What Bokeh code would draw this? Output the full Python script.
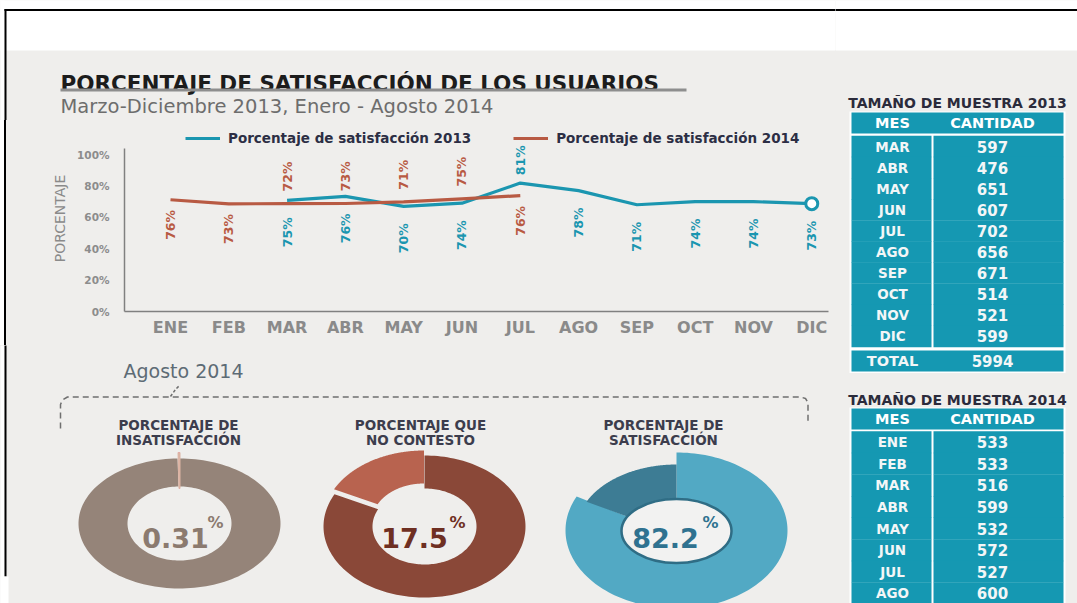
import numpy as np
from bokeh.plotting import figure
from bokeh.models import Range1d, FixedTicker, PrintfTickFormatter, Legend, LegendItem, Div
from bokeh.layouts import row, column
from bokeh.embed import file_html
from bokeh.resources import INLINE
from bokeh.core.properties import value

# ---------------- data ----------------
MESES = ["ENE", "FEB", "MAR", "ABR", "MAY", "JUN", "JUL", "AGO", "SEP", "OCT", "NOV", "DIC"]

MESES_2013 = ["MAR", "ABR", "MAY", "JUN", "JUL", "AGO", "SEP", "OCT", "NOV", "DIC"]
LINEA_2013 = [70.8, 73.3, 67.0, 69.0, 81.8, 77.0, 68.0, 70.0, 70.0, 68.7]
ETIQ_2013 = ["75%", "76%", "70%", "74%", "81%", "78%", "71%", "74%", "74%", "73%"]
POS_2013 = ["abajo", "abajo", "abajo", "abajo", "arriba", "abajo", "abajo", "abajo", "abajo", "abajo"]

MESES_2014 = ["ENE", "FEB", "MAR", "ABR", "MAY", "JUN", "JUL"]
LINEA_2014 = [71.2, 68.6, 68.7, 68.8, 69.8, 71.8, 73.8]
ETIQ_2014 = ["76%", "73%", "72%", "73%", "71%", "75%", "76%"]
POS_2014 = ["abajo", "abajo", "arriba", "arriba", "arriba", "arriba", "abajo"]

Y_TICKS = [0, 20, 40, 60, 80, 100]

TABLA_MESES_2013 = ["MAR", "ABR", "MAY", "JUN", "JUL", "AGO", "SEP", "OCT", "NOV", "DIC"]
MUESTRA_2013 = [597, 476, 651, 607, 702, 656, 671, 514, 521, 599]
TOTAL_2013 = 5994
TABLA_MESES_2014 = ["ENE", "FEB", "MAR", "ABR", "MAY", "JUN", "JUL", "AGO"]
MUESTRA_2014 = [533, 533, 516, 599, 532, 572, 527, 600]

DONUT_TITULOS = [("PORCENTAJE DE", "INSATISFACCIÓN"),
                 ("PORCENTAJE QUE", "NO CONTESTO"),
                 ("PORCENTAJE DE", "SATISFACCIÓN")]
DONUT_VALORES = [0.31, 17.5, 82.2]
DONUT_TEXTOS = ["0.31", "17.5", "82.2"]

# ---------------- style ----------------
BG = "#efeeec"
TEAL = "#1b96b0"
RED = "#b85a43"
FONT = value("DejaVu Sans")
TBL = "#1598b2"
BAND = {"background": f"linear-gradient(to bottom, white 0px, white 50px, {BG} 50px, {BG} 100%)"}


def lienzo(x0, x1, y0, y1):
    f = figure(width=int(x1 - x0), height=int(y1 - y0),
               x_range=Range1d(x0, x1), y_range=Range1d(y1, y0),
               output_backend="svg", toolbar_location=None, min_border=0,
               x_axis_type=None, y_axis_type=None,
               background_fill_color=BG, border_fill_color=BG,
               outline_line_color=None, frame_align=False)
    return f


def texto(f, x, y, s, size, color, bold=False, align="left", baseline="middle", angle=0.0):
    f.text(x=[x], y=[y], text=[s], text_font=FONT, text_font_size=f"{size}px",
           text_font_style="bold" if bold else "normal", text_color=color,
           text_align=align, text_baseline=baseline, angle=angle)


def borde_izq(f, y0, y1):
    f.quad(left=[-5], right=[4], top=[y0 - 5], bottom=[y1 + 5], fill_color="white", line_color=None)
    f.segment(x0=[5], y0=[max(y0 - 2, 8.5)], x1=[5], y1=[min(y1 + 2, 576)], line_color="black",
              line_width=2)


# ---------------- header ----------------
head = lienzo(0, 835, 0, 120)
head.quad(left=[-5], right=[845], top=[-5], bottom=[50], fill_color="white", line_color=None)
borde_izq(head, 0, 120)
head.segment(x0=[4], y0=[9.5], x1=[845], y1=[9.5], line_color="black", line_width=2)
texto(head, 60, 82.5, "PORCENTAJE DE SATISFACCIÓN DE LOS USUARIOS", 21.5, "#1c1c1c", bold=True,
      baseline="alphabetic")
head.segment(x0=[60], y0=[89.5], x1=[686], y1=[89.5], line_color="#8e8e8e", line_width=3)
texto(head, 60, 106, "Marzo-Diciembre 2013, Enero - Agosto 2014", 19.5, "#6d6d6d", baseline="alphabetic")

# ---------------- line chart ----------------
strip = Div(width=6, height=225, text="", margin=0,
            styles={"background": "linear-gradient(to right, white 0px, white 4px, black 4px, black 6px)"})

chart = figure(width=829, height=225, x_range=Range1d(-0.789, 11.287), y_range=Range1d(0, 118.5),
               output_backend="svg", toolbar_location=None,
               min_border_left=118, min_border_right=7, min_border_top=5, min_border_bottom=34,
               background_fill_color=BG, border_fill_color=BG, outline_line_color=None,
               frame_align=False)
chart.grid.visible = False

x13 = [MESES.index(m) for m in MESES_2013]
x14 = [MESES.index(m) for m in MESES_2014]

l13 = chart.line(x13, LINEA_2013, line_color=TEAL, line_width=3.2)
l14 = chart.line(x14, LINEA_2014, line_color=RED, line_width=3.2)
chart.scatter([x13[-1]], [LINEA_2013[-1]], marker="circle", size=12, fill_color="white",
              line_color=TEAL, line_width=3)

OFF = {"2013": {"arriba": 5.0, "abajo": -10.8}, "2014": {"arriba": 7.8, "abajo": -6.5}}
for key, xs, vals, labs, pos, col in [("2013", x13, LINEA_2013, ETIQ_2013, POS_2013, TEAL),
                                      ("2014", x14, LINEA_2014, ETIQ_2014, POS_2014, RED)]:
    for where, align in [("arriba", "left"), ("abajo", "right")]:
        idx = [i for i, p_ in enumerate(pos) if p_ == where]
        if not idx:
            continue
        chart.text(x=[xs[i] for i in idx], y=[vals[i] + OFF[key][where] for i in idx],
                   text=[labs[i] for i in idx], angle=np.pi / 2, text_align=align,
                   text_baseline="middle", text_font=FONT, text_font_size="12.5px",
                   text_font_style="bold", text_color=col)

xa = chart.xaxis[0]
xa.ticker = FixedTicker(ticks=list(range(len(MESES))))
xa.major_label_overrides = {i: m for i, m in enumerate(MESES)}
xa.major_tick_line_color = None
xa.minor_tick_line_color = None
xa.axis_line_color = "#808080"
xa.axis_line_width = 1.5
xa.major_label_text_font = "DejaVu Sans"
xa.major_label_text_font_size = "16px"
xa.major_label_text_font_style = "bold"
xa.major_label_text_color = "#8a8a8a"
xa.major_label_standoff = 0

ya = chart.yaxis[0]
ya.ticker = FixedTicker(ticks=Y_TICKS)
ya.formatter = PrintfTickFormatter(format="%d%%")
ya.bounds = (0, 104)
ya.major_tick_line_color = None
ya.minor_tick_line_color = None
ya.axis_line_color = "#808080"
ya.axis_line_width = 1.5
ya.major_label_text_font = "DejaVu Sans"
ya.major_label_text_font_size = "10.5px"
ya.major_label_text_font_style = "bold"
ya.major_label_text_color = "#8c8c8c"
ya.major_label_standoff = 9
ya.axis_label = "PORCENTAJE"
ya.axis_label_text_font = "DejaVu Sans"
ya.axis_label_text_font_size = "14px"
ya.axis_label_text_font_style = "normal"
ya.axis_label_text_color = "#8a8a8a"
ya.axis_label_standoff = 6

legend = Legend(items=[LegendItem(label="Porcentaje de satisfacción 2013", renderers=[l13]),
                       LegendItem(label="Porcentaje de satisfacción 2014", renderers=[l14])],
                orientation="horizontal", location=(61, 165), spacing=42, glyph_width=35,
                glyph_height=14, label_height=14, label_standoff=8, padding=0, margin=0,
                border_line_color=None, background_fill_alpha=0,
                label_text_font="DejaVu Sans", label_text_font_size="13.5px",
                label_text_font_style="bold", label_text_color="#2c2e44")
chart.add_layout(legend)

# ---------------- donuts ----------------
don = lienzo(0, 835, 345, 603)
borde_izq(don, 345, 603)
don.quad(left=[-5], right=[8], top=[576], bottom=[610], fill_color="white", line_color=None)
texto(don, 183, 370, "Agosto 2014", 19, "#5d6b75", align="center")
don.line(x=[60, 60, 62, 67, 800, 805, 807.5, 807.5], y=[428, 404, 399.5, 396.5, 396.5, 398, 402, 424],
         line_color="#6f6f6f", line_width=1.5, line_dash="6 4")
don.line(x=[170, 175, 179], y=[396, 389, 385], line_color="#6f6f6f", line_width=1.5, line_dash="3 2")


def anillo(cx, cy, rxo, ryo, rxi, ryi, a0, a1, n=160):
    t = np.radians(np.linspace(a0, a1, n))
    xo = cx + rxo * np.cos(t)
    yo = cy - ryo * np.sin(t)
    xi = cx + rxi * np.cos(t[::-1])
    yi = cy - ryi * np.sin(t[::-1])
    return list(np.r_[xo, xi]), list(np.r_[yo, yi])


for i, (l1, l2) in enumerate(DONUT_TITULOS):
    cx_t = [178, 420, 663][i]
    texto(don, cx_t, 424.7, l1, 13.5, "#3c3d4d", bold=True, align="center")
    texto(don, cx_t, 439.5, l2, 13.5, "#3c3d4d", bold=True, align="center")

# donut 1: insatisfaccion
a1 = 360 * DONUT_VALORES[0] / 100
xs, ys = anillo(179, 523, 101, 65, 52, 37, 90 + a1, 450)
don.patch(xs, ys, fill_color="#958479", line_color=None)
xs, ys = anillo(179.5, 519, 101, 67, 52, 31, 90, 90 + a1)
don.patch(xs, ys, fill_color="#dcb3a3", line_color="#dcb3a3", line_width=1)

# donut 2: no contesto
a2 = 360 * DONUT_VALORES[1] / 100
xs, ys = anillo(424, 526, 101, 71, 52, 38, 90 + a2, 450)
don.patch(xs, ys, fill_color="#8a4838", line_color=None)
xs, ys = anillo(423.5, 521, 101, 71, 52, 38, 90, 90 + a2)
don.patch(xs, ys, fill_color="#b8634f", line_color=None)

# donut 3: satisfaccion
a3 = 360 * DONUT_VALORES[2] / 100
xs, ys = anillo(676, 530, 111, 78, 55, 32, 90 - a3, 90)
don.patch(xs, ys, fill_color="#52a9c4", line_color=None)
xs, ys = anillo(676, 530, 100, 66, 55, 32, 90, 90 - a3 + 360)
don.patch(xs, ys, fill_color="#3d7c94", line_color=None)
don.ellipse(x=[676], y=[530.5], width=110, height=64, fill_color="#f2f2f1", line_color="#2f6d85",
            line_width=2.5)

num_cols = ["#8b7a6f", "#6e2f22", "#2f7290"]
num_x = [175, 414, 665]
pct_x = [207, 449, 702]
for i, s in enumerate(DONUT_TEXTOS):
    texto(don, num_x[i], 537, s, 27, num_cols[i], bold=True, align="center", baseline="alphabetic")
    texto(don, pct_x[i], 512, "%", 16, num_cols[i], bold=True, align="left", baseline="top")

# ---------------- tables ----------------
rt = lienzo(835, 1077, 0, 603)
rt.quad(left=[825], right=[1085], top=[-5], bottom=[50], fill_color="white", line_color=None)
rt.segment(x0=[825], y0=[9.5], x1=[1085], y1=[9.5], line_color="black", line_width=2)

TXT = "#f3f6f7"


def tabla(f, titulo, y_tit, y_head, y_row0, pitch, meses, vals, total=None):
    texto(f, 957, y_tit, titulo, 14, "#2b2b3b", bold=True, align="center")
    n = len(vals)
    bottom = y_row0 + pitch * n - pitch / 2 + (26 if total is not None else 10)
    f.quad(left=[849], right=[1065], top=[y_head - 11.5], bottom=[bottom], fill_color="white",
           line_color=None)
    f.rect(x=[957], y=[y_head], width=212, height=21, fill_color=TBL, line_color=None)
    texto(f, 892, y_head, "MES", 14.5, "white", bold=True, align="center")
    texto(f, 992, y_head, "CANTIDAD", 14.5, "white", bold=True, align="center")
    ys = [y_row0 + pitch * i for i in range(n)]
    f.rect(x=[891] * n, y=ys, width=80, height=pitch + 0.4, fill_color=TBL, line_color=None)
    f.rect(x=[998] * n, y=ys, width=130, height=pitch + 0.4, fill_color=TBL, line_color=None)
    f.text(x=[892] * n, y=ys, text=meses, text_font=FONT, text_font_size="13.5px",
           text_font_style="bold", text_color=TXT, text_align="center", text_baseline="middle")
    f.text(x=[992] * n, y=ys, text=[str(v) for v in vals], text_font=FONT, text_font_size="15px",
           text_font_style="bold", text_color=TXT, text_align="center", text_baseline="middle")
    if total is not None:
        yt = ys[-1] + pitch / 2 + 14
        f.rect(x=[957], y=[yt], width=212, height=21, fill_color=TBL, line_color=None)
        texto(f, 892, yt, "TOTAL", 14.5, TXT, bold=True, align="center")
        texto(f, 992, yt, str(total), 15, TXT, bold=True, align="center")


tabla(rt, "TAMAÑO DE MUESTRA 2013", 102, 122.5, 146, 21.1, TABLA_MESES_2013, MUESTRA_2013, TOTAL_2013)
tabla(rt, "TAMAÑO DE MUESTRA 2014", 399, 418.5, 441.7, 21.6, TABLA_MESES_2014, MUESTRA_2014)

layout = row(column(head, row(strip, chart, styles={"background-color": BG}), don, styles=BAND),
             rt, styles=BAND)

open("out.html", "w").write(file_html(layout, INLINE))
